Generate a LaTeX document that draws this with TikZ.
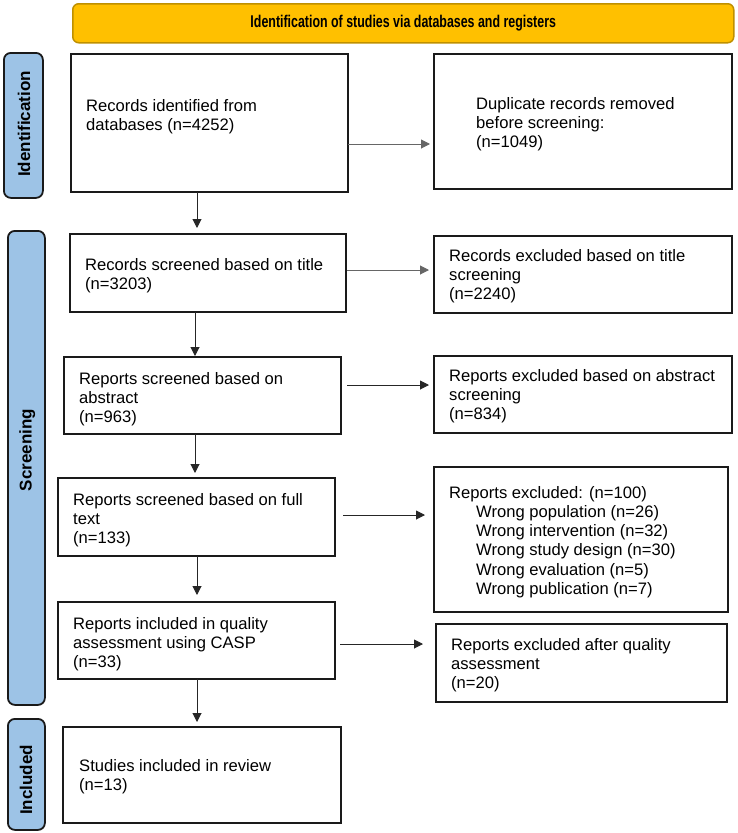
\documentclass[tikz,border=0pt]{standalone}
\usepackage{fontspec}
\usepackage{graphicx}
\setmainfont{Liberation Sans}
\usetikzlibrary{arrows.meta,calc}
\definecolor{sideblue}{HTML}{9DC3E6}
\definecolor{gold}{HTML}{FFC000}
\definecolor{goldline}{HTML}{BF9000}
\definecolor{boxline}{HTML}{1A1A1A}
\begin{document}
\begin{tikzpicture}[x=1pt,y=-1pt,
  box/.style={draw=boxline, line width=1.6pt, anchor=north west, inner sep=0pt, outer sep=0pt},
  txt/.style={anchor=north west, inner sep=0pt, align=left, font=\fontsize{16.6}{19.2}\selectfont},
  side/.style={draw=boxline, line width=1.8pt, fill=sideblue, rounded corners=7pt, anchor=north west, inner sep=0pt},
  sidelabel/.style={rotate=90, anchor=base, inner sep=0pt, font=\bfseries\fontsize{17}{20}\selectfont},
  banner/.style={draw=goldline, line width=1.5pt, fill=gold, rounded corners=6pt, anchor=north west, inner sep=0pt, font=\bfseries\fontsize{17}{20}\selectfont},
  arr/.style={draw=black!85, line width=1pt, -{Triangle[length=9pt,width=9pt]}},
  arrg/.style={arr, draw=black!60}
]
\useasboundingbox (0,0) rectangle (737,833);

% banner
\node[banner, minimum width=661pt, minimum height=39pt] (ban) at (72,3) {\scalebox{0.73}[1]{Identification of studies via databases and registers}};

% side bars
\node[side, minimum width=39pt, minimum height=145pt] (sid) at (3,52) {};
\node[side, minimum width=37pt, minimum height=474pt] (sscr) at (7,230) {};
\node[side, minimum width=37pt, minimum height=111pt] (sinc) at (7,718) {};
\node[sidelabel] (lid) at (30,124) {Identification};
\node[sidelabel] (lscr) at (31.5,450) {Screening};
\node[sidelabel] (linc) at (32,780) {Included};

% left column boxes
\node[box, minimum width=277pt, minimum height=138pt] (b1) at (71,54) {};
\node[box, minimum width=276pt, minimum height=78pt] (b2) at (70,234) {};
\node[box, minimum width=277pt, minimum height=77pt] (b3) at (64,357) {};
\node[box, minimum width=277pt, minimum height=78pt] (b4) at (58,478) {};
\node[box, minimum width=277pt, minimum height=77pt] (b5) at (58,602) {};
\node[box, minimum width=278pt, minimum height=96pt] (b6) at (63,727) {};

% right column boxes
\node[box, minimum width=298pt, minimum height=135pt] (r1) at (434,54) {};
\node[box, minimum width=298pt, minimum height=77pt] (r2) at (434,236) {};
\node[box, minimum width=298pt, minimum height=77pt] (r3) at (434,356) {};
\node[box, minimum width=294pt, minimum height=145pt] (r4) at (434,467) {};
\node[box, minimum width=291pt, minimum height=78pt] (r5) at (436,624) {};

% texts
\node[txt] (t1) at (86,99) {Records identified from\\databases (n=4252)};
\node[txt] (t2) at (85,258) {Records screened based on title\\(n=3203)};
\node[txt] (t3) at (79,372) {Reports screened based on\\abstract\\(n=963)};
\node[txt] (t4) at (73,493) {Reports screened based on full\\text\\(n=133)};
\node[txt] (t5) at (73,617) {Reports included in quality\\assessment using CASP\\(n=33)};
\node[txt] (t6) at (79,759) {Studies included in review\\(n=13)};

\node[txt] (tr1) at (476,97) {Duplicate records removed\\before screening:\\(n=1049)};
\node[txt] (tr2) at (449,249) {Records excluded based on title\\screening\\(n=2240)};
\node[txt] (tr3) at (449,369) {Reports excluded based on abstract\\screening\\(n=834)};
\node[txt] (tr4) at (449,486) {Reports excluded: (n=100)\\\hspace*{27pt}Wrong population (n=26)\\\hspace*{27pt}Wrong intervention (n=32)\\\hspace*{27pt}Wrong study design (n=30)\\\hspace*{27pt}Wrong evaluation (n=5)\\\hspace*{27pt}Wrong publication (n=7)};
\node[txt] (tr5) at (451,638) {Reports excluded after quality\\assessment\\(n=20)};

% vertical arrows
\coordinate (v1) at ([xshift=-12.5pt]b1.south);
\coordinate (v2) at ([xshift=-13pt]b2.south);
\coordinate (v3) at ([xshift=-7.5pt]b3.south);
\coordinate (v4) at ([xshift=0.5pt]b4.south);
\coordinate (v5) at ([xshift=0.5pt]b5.south);
\draw[arr, shorten >=6pt] (v1) -- (v1 |- b2.north);
\draw[arr, shorten >=1pt] (v2) -- (v2 |- b3.north);
\draw[arr, shorten >=5pt] (v3) -- (v3 |- b4.north);
\draw[arr, shorten >=7pt] (v4) -- (v4 |- b5.north);
\draw[arr, shorten >=5pt] (v5) -- (v5 |- b6.north);

% horizontal arrows
\coordinate (h1) at ([yshift=-21pt]b1.east);
\coordinate (h2) at ([yshift=3pt]b2.east);
\coordinate (h3) at ([yshift=10.5pt]b3.east);
\coordinate (h4) at ([yshift=2pt]b4.east);
\coordinate (h5) at ([yshift=-3.5pt]b5.east);
\draw[arrg, shorten >=4pt] (h1) -- (h1 -| r1.west);
\draw[arrg, shorten <=1pt, shorten >=5pt] (h2) -- (h2 -| r2.west);
\draw[arr, shorten <=6pt, shorten >=5pt] (h3) -- (h3 -| r3.west);
\draw[arr, shorten <=8pt, shorten >=9pt] (h4) -- (h4 -| r4.west);
\draw[arr, shorten <=5pt, shorten >=13pt] (h5) -- (h5 -| r5.west);
\end{tikzpicture}
\end{document}
